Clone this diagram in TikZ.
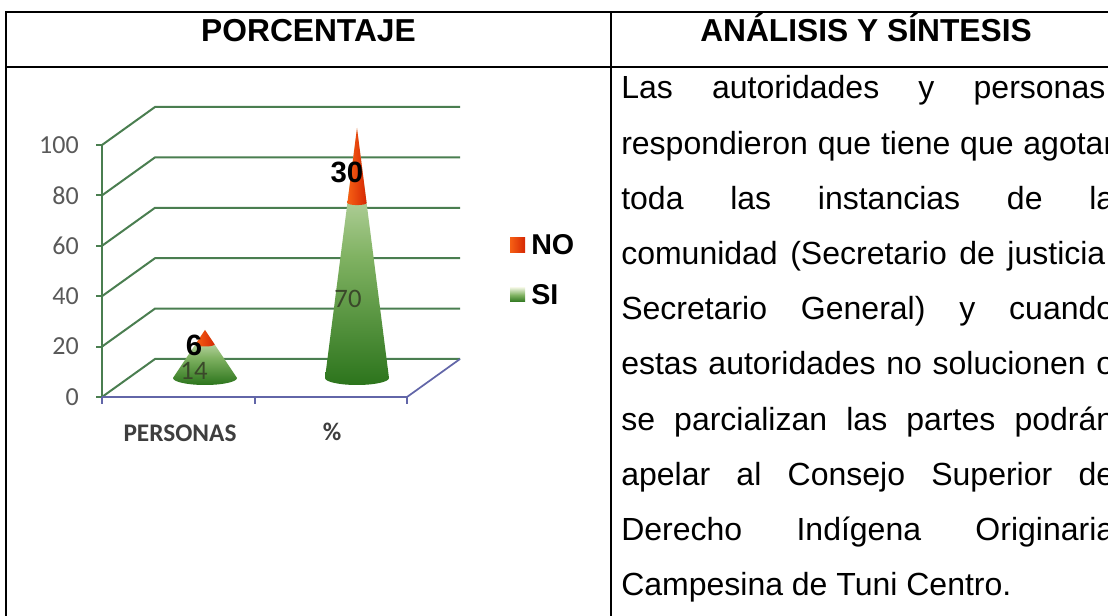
\documentclass[tikz,border=0pt]{standalone}
\usepackage{fontspec}
\setmainfont{Liberation Sans}
\newfontfamily\calibri{Carlito}
\definecolor{gridgreen}{RGB}{74,126,80}
\definecolor{floorblue}{RGB}{98,102,168}
\definecolor{conelight}{RGB}{232,240,216}
\definecolor{conemid}{RGB}{128,178,98}
\definecolor{conedark}{RGB}{44,116,28}
\definecolor{tipred}{RGB}{246,96,20}
\definecolor{tipdark}{RGB}{214,40,4}
\definecolor{axisgray}{RGB}{89,89,89}
\definecolor{valgreen}{RGB}{58,72,42}
\newcommand{\jline}[1]{\makebox[369.75pt][s]{#1}}

\begin{document}
\begin{tikzpicture}[x=0.75pt, y=-0.75pt,
    tabline/.style={line width=1.6pt, black},
    gridline/.style={gridgreen, line width=1.5pt},
    floorline/.style={floorblue, line width=1.3pt},
    header/.style={font=\fontsize{23.8}{28}\selectfont\bfseries, inner sep=0pt, anchor=base},
    bodyline/.style={font=\fontsize{24}{28}\selectfont, inner sep=0pt, anchor=base west},
    ylabel/.style={font=\calibri\fontsize{19.5}{22}\selectfont, text=axisgray, anchor=east, inner sep=0pt},
    catlabel/.style={font=\calibri\bfseries\fontsize{19}{22}\selectfont, text=axisgray!70!black, inner sep=0pt},
    sicone/.style={top color=conelight, bottom color=conedark, middle color=conemid},
    nocone/.style={left color=tipred, right color=tipdark},
    bigval/.style={font=\fontsize{22}{26}\selectfont\bfseries, inner sep=0pt},
    smallval/.style={font=\calibri\fontsize{20}{24}\selectfont, text=valgreen, inner sep=0pt},
    legendtext/.style={font=\fontsize{21.5}{26}\selectfont\bfseries, anchor=west, inner sep=0pt}]
  \useasboundingbox (0,0) rectangle (1108,616);

  \draw[tabline] (6,616) -- (6,12) -- (1108,12);
  \draw[tabline] (6,67) -- (1108,67);
  \draw[tabline] (611,12) -- (611,616);
  \node[header] (hporc) at (308.5,42) {PORCENTAJE};
  \node[header] (hanal) at (866,42) {ANÁLISIS Y SÍNTESIS};

  \foreach \v in {0,20,...,100} {
    \pgfmathsetmacro\yy{397-2.52*\v}
    \draw[gridline] (102,\yy) -- ++(53,-38) -- ++(305,0);
    \draw[gridline] (96,\yy) -- (102,\yy);
    \node[ylabel] (y\v) at (79,\yy) {\v};
  }
  \draw[gridline] (102,145) -- (102,397);
  \draw[floorline] (102,397) -- (407,397) -- (460,359);
  \foreach \x in {102,255,407}
    \draw[floorline] (\x,397) -- (\x,404);

  \path[sicone] (173,378) -- (205,330) -- (237,378) arc[start angle=0, end angle=180, x radius=32, y radius=7] -- cycle;
  \path[nocone] (195.4,344.4) -- (205,330) -- (214.6,344.4) arc[start angle=0, end angle=180, x radius=9.6, y radius=2.1] -- cycle;
  \path[sicone] (325,378) -- (357,128) -- (389,378) arc[start angle=0, end angle=180, x radius=32, y radius=7] -- cycle;
  \path[nocone] (347.4,203) -- (357,128) -- (366.6,203) arc[start angle=0, end angle=180, x radius=9.6, y radius=2.1] -- cycle;

  \node[bigval] (no30) at (347,172) {30};
  \node[bigval] (no6) at (194,345) {6};
  \node[smallval] (si70) at (348,299) {70};
  \node[smallval] (si14) at (194,371) {14};

  \node[catlabel] (persona) at (180,433) {PERSONAS};
  \node[catlabel] (pct) at (332,432) {\%};

  \path[nocone] (510,238) rectangle (525,253);
  \node[legendtext] (legno) at (531,245) {NO};
  \path[sicone] (510,288) rectangle (525,302);
  \node[legendtext] (legsi) at (531,295) {SI};

  \foreach \t [count=\i from 0] in {{Las autoridades y personas,}, {respondieron que tiene que agotar}, {toda las instancias de la}, {comunidad (Secretario de justicia,}, {Secretario General) y cuando}, {estas autoridades no solucionen o}, {se parcializan las partes podrán}, {apelar al Consejo Superior de}, {Derecho Indígena Originaria}}
    \node[bodyline] (linea\i) at (621,99+55.2*\i) {\jline{\t}};
  \node[bodyline] (linea9) at (621,596) {Campesina de Tuni Centro.};
\end{tikzpicture}
\end{document}
